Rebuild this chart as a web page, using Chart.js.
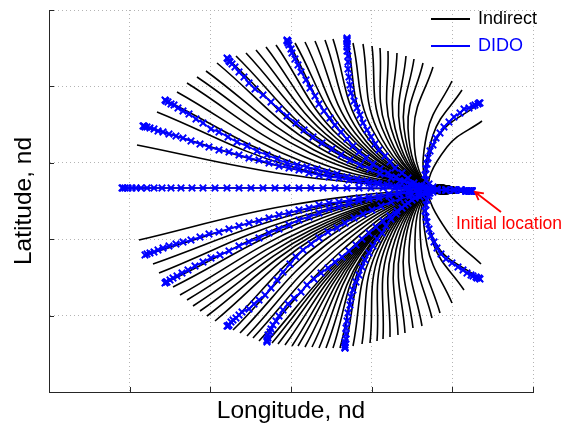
<!DOCTYPE html>
<html lang="en">
<head>
<meta charset="utf-8"/>
<script src="https://cdn.jsdelivr.net/npm/chart.js@4.4.0/dist/chart.umd.min.js"></script>
<style>
    html, body { margin: 0; padding: 0; background: #fff; }
    #wrap { width: 576px; height: 428px; }
</style>
</head>
<body>
<div id="wrap"><canvas id="chart" width="576" height="428"></canvas></div>
<script>
// nondimensional frame, no tick labels in the original
const xTickValues = [0, 0.8067, 1.6133, 2.42, 3.2267, 4.0333, 4.84];
const yTickValues = [0, 0.764, 1.528, 2.292, 3.056, 3.82];
const xTitle = 'Longitude, nd';
const yTitle = 'Latitude, nd';
const legendLabels = ['Indirect', 'DIDO'];
const noteText = 'Initial location';
const noteAt = [4.07, 1.68];
const arrowTail = [4.52, 1.80];
const arrowTip = [4.26, 2.00];

// Indirect: every path leaves the initial location, runs into the fan root, then bends out
const indirectStart = [[4.23, 2.01], [3.81, 2.03]];
const indirectEndX = [0.88,0.94,1.08,1.16,1.28,1.38,1.48,1.57,1.68,1.78,1.87,1.97,2.07,2.17,2.27,2.38,2.46,2.56,2.66,2.76,2.84,2.98,3.04,3.14,3.23,3.31,3.39,3.48,3.57,3.65,3.74,3.84,4.03,4.13,4.31,4.33,
    0.73,
    0.90,0.96,1.04,1.10,1.16,1.24,1.31,1.38,1.44,1.51,1.58,1.66,1.78,1.84,1.91,1.98,2.04,2.10,2.18,2.23,2.29,2.36,2.43,2.49,2.56,2.63,2.70,2.77,2.84,2.91,2.96,3.04,3.13,3.21,3.28,3.34,3.41,3.49,3.56,3.64,3.73,3.83,3.91,4.03,4.15,4.31,4.32];
const indirectEndY = [2.47,2.66,2.80,2.92,3.00,3.09,3.15,3.21,3.29,3.34,3.36,3.39,3.42,3.45,3.47,3.52,3.49,3.50,3.51,3.52,3.53,3.54,3.49,3.48,3.46,3.44,3.41,3.39,3.36,3.33,3.29,3.25,3.11,3.02,2.89,2.71,
    2.04,
    1.52,1.37,1.28,1.19,1.09,1.05,0.97,0.92,0.86,0.81,0.76,0.71,0.65,0.62,0.59,0.56,0.54,0.51,0.50,0.49,0.48,0.47,0.46,0.46,0.45,0.45,0.44,0.44,0.44,0.44,0.44,0.46,0.48,0.49,0.51,0.53,0.55,0.57,0.59,0.64,0.66,0.74,0.79,0.89,1.02,1.13,1.28];
const indirectMidX = [2.35,2.39,2.44,2.48,2.52,2.56,2.61,2.65,2.69,2.72,2.76,2.80,2.84,2.87,2.91,2.94,2.98,3.02,3.06,3.10,3.14,3.18,3.23,3.28,3.33,3.37,3.42,3.46,3.51,3.55,3.59,3.65,3.78,3.84,3.88,3.98,
    2.27,
    2.36,2.39,2.43,2.47,2.50,2.53,2.56,2.59,2.62,2.64,2.66,2.68,2.70,2.74,2.78,2.82,2.86,2.90,2.94,2.96,2.98,3.00,3.02,3.04,3.06,3.08,3.10,3.13,3.15,3.17,3.19,3.23,3.27,3.31,3.35,3.39,3.43,3.47,3.51,3.55,3.60,3.66,3.72,3.78,3.84,3.87,3.98];
const indirectMidY = [2.18,2.24,2.25,2.28,2.31,2.35,2.39,2.42,2.45,2.48,2.49,2.51,2.52,2.54,2.55,2.57,2.58,2.58,2.59,2.60,2.61,2.62,2.63,2.63,2.64,2.64,2.64,2.64,2.64,2.64,2.64,2.64,2.59,2.57,2.54,2.45,
    2.04,
    1.86,1.79,1.77,1.74,1.72,1.70,1.67,1.64,1.62,1.60,1.58,1.56,1.54,1.51,1.48,1.45,1.42,1.39,1.36,1.36,1.36,1.36,1.36,1.36,1.36,1.36,1.36,1.36,1.37,1.37,1.37,1.38,1.39,1.40,1.41,1.42,1.42,1.42,1.42,1.43,1.43,1.44,1.45,1.47,1.49,1.48,1.61];

// DIDO nodes, crowded at both ends of each arc
const didoStart = [[4.23,2.01],[4.22,2.01],[4.20,2.01],[4.17,2.01],[4.12,2.02],[4.05,2.02],[3.97,2.02]];
const dido0 = [[3.88,2.03],[3.78,2.03],[3.68,2.03],[3.57,2.04],[3.46,2.04],[3.34,2.04],[3.22,2.04],[3.10,2.04],[2.98,2.04],[2.86,2.04],[2.74,2.04],[2.62,2.04],[2.50,2.04],[2.38,2.04],[2.26,2.04],[2.14,2.04],[2.02,2.04],[1.90,2.04],[1.78,2.04],[1.66,2.04],[1.54,2.04],[1.43,2.04],[1.32,2.04],[1.22,2.04],[1.13,2.04],[1.05,2.04],[0.98,2.04],[0.92,2.04],[0.87,2.04],[0.83,2.04],[0.79,2.04],[0.76,2.04],[0.74,2.04],[0.73,2.04]];
const dido1 = [[3.88,2.02],[3.79,2.03],[3.70,2.03],[3.60,2.04],[3.50,2.05],[3.40,2.06],[3.30,2.08],[3.20,2.09],[3.10,2.10],[3.00,2.12],[2.90,2.14],[2.80,2.15],[2.70,2.17],[2.60,2.19],[2.50,2.22],[2.40,2.24],[2.30,2.26],[2.20,2.29],[2.10,2.32],[2.00,2.34],[1.90,2.37],[1.80,2.40],[1.70,2.42],[1.60,2.45],[1.51,2.48],[1.42,2.51],[1.34,2.54],[1.27,2.56],[1.20,2.58],[1.14,2.60],[1.09,2.61],[1.05,2.63],[1.01,2.64],[0.98,2.65],[0.96,2.65],[0.95,2.66],[0.94,2.66]];
const dido2 = [[3.88,2.02],[3.78,2.03],[3.68,2.04],[3.58,2.04],[3.48,2.05],[3.38,2.07],[3.28,2.09],[3.18,2.11],[3.08,2.13],[2.98,2.15],[2.88,2.18],[2.78,2.20],[2.68,2.23],[2.58,2.25],[2.48,2.27],[2.38,2.29],[2.28,2.33],[2.18,2.37],[2.08,2.41],[1.98,2.46],[1.88,2.50],[1.79,2.55],[1.70,2.60],[1.62,2.63],[1.54,2.69],[1.47,2.73],[1.40,2.78],[1.34,2.81],[1.29,2.84],[1.25,2.87],[1.22,2.88],[1.19,2.90],[1.17,2.91],[1.16,2.92]];
const dido3 = [[3.88,2.02],[3.79,2.04],[3.70,2.06],[3.61,2.08],[3.51,2.11],[3.42,2.14],[3.31,2.18],[3.21,2.23],[3.11,2.27],[3.01,2.32],[2.92,2.37],[2.83,2.43],[2.73,2.49],[2.64,2.55],[2.55,2.62],[2.47,2.69],[2.38,2.76],[2.30,2.83],[2.22,2.90],[2.14,2.97],[2.06,3.03],[2.00,3.09],[1.95,3.15],[1.90,3.20],[1.86,3.25],[1.83,3.28],[1.81,3.30],[1.80,3.31],[1.79,3.33],[1.78,3.34]];
const dido4 = [[3.88,2.02],[3.80,2.04],[3.72,2.06],[3.62,2.08],[3.55,2.11],[3.47,2.15],[3.39,2.19],[3.31,2.23],[3.24,2.28],[3.17,2.34],[3.10,2.40],[3.04,2.46],[2.98,2.53],[2.92,2.60],[2.86,2.67],[2.81,2.74],[2.75,2.81],[2.70,2.88],[2.66,2.96],[2.61,3.04],[2.57,3.12],[2.52,3.20],[2.49,3.27],[2.46,3.33],[2.43,3.39],[2.42,3.43],[2.40,3.47],[2.39,3.49],[2.39,3.51],[2.38,3.51],[2.38,3.52]];
const dido5 = [[3.88,2.02],[3.80,2.04],[3.73,2.06],[3.65,2.09],[3.59,2.14],[3.53,2.19],[3.46,2.24],[3.41,2.30],[3.36,2.36],[3.30,2.42],[3.26,2.48],[3.22,2.55],[3.18,2.62],[3.14,2.69],[3.11,2.77],[3.08,2.84],[3.05,2.91],[3.02,2.99],[3.01,3.07],[3.00,3.15],[2.99,3.23],[2.99,3.30],[2.99,3.36],[2.98,3.41],[2.98,3.45],[2.98,3.48],[2.98,3.51],[2.98,3.52],[2.98,3.53],[2.98,3.54]];
const dido6 = [[3.88,2.02],[3.84,2.05],[3.80,2.08],[3.77,2.12],[3.76,2.17],[3.77,2.23],[3.78,2.28],[3.79,2.34],[3.81,2.41],[3.84,2.47],[3.87,2.54],[3.91,2.59],[3.95,2.65],[4.00,2.70],[4.05,2.75],[4.11,2.79],[4.15,2.83],[4.20,2.84],[4.24,2.86],[4.26,2.87],[4.29,2.88],[4.30,2.89],[4.31,2.89]];
const dido7 = [[3.88,2.02],[3.79,2.01],[3.70,2.01],[3.60,2.00],[3.50,1.99],[3.40,1.98],[3.30,1.96],[3.20,1.95],[3.10,1.94],[3.00,1.92],[2.90,1.90],[2.80,1.89],[2.70,1.87],[2.60,1.84],[2.50,1.82],[2.40,1.79],[2.30,1.77],[2.20,1.74],[2.10,1.71],[2.00,1.69],[1.90,1.66],[1.80,1.63],[1.70,1.60],[1.60,1.58],[1.51,1.55],[1.42,1.52],[1.34,1.50],[1.27,1.48],[1.20,1.46],[1.14,1.44],[1.09,1.42],[1.05,1.40],[1.01,1.39],[0.98,1.38],[0.96,1.37]];
const dido8 = [[3.88,2.02],[3.79,2.01],[3.70,2.00],[3.60,1.99],[3.50,1.98],[3.40,1.96],[3.30,1.94],[3.20,1.93],[3.10,1.91],[3.00,1.88],[2.90,1.85],[2.80,1.83],[2.70,1.79],[2.60,1.75],[2.50,1.72],[2.40,1.67],[2.30,1.63],[2.20,1.59],[2.10,1.54],[2.00,1.50],[1.90,1.46],[1.80,1.41],[1.71,1.37],[1.62,1.34],[1.54,1.30],[1.46,1.26],[1.39,1.22],[1.33,1.19],[1.28,1.16],[1.24,1.14],[1.21,1.12],[1.18,1.10],[1.17,1.10],[1.16,1.09]];
const dido9 = [[3.88,2.02],[3.79,2.00],[3.70,1.98],[3.61,1.96],[3.51,1.93],[3.42,1.90],[3.32,1.86],[3.23,1.82],[3.14,1.78],[3.05,1.74],[2.96,1.69],[2.88,1.64],[2.79,1.60],[2.70,1.54],[2.62,1.48],[2.54,1.42],[2.47,1.35],[2.41,1.28],[2.34,1.20],[2.28,1.12],[2.22,1.04],[2.16,0.97],[2.10,0.92],[2.05,0.88],[2.00,0.83],[1.93,0.80],[1.90,0.77],[1.87,0.74],[1.84,0.72],[1.82,0.70],[1.80,0.67],[1.79,0.66],[1.78,0.66]];
const dido10 = [[3.88,2.02],[3.80,1.99],[3.71,1.95],[3.63,1.92],[3.56,1.87],[3.48,1.81],[3.41,1.76],[3.34,1.71],[3.27,1.65],[3.20,1.59],[3.13,1.53],[3.07,1.47],[3.00,1.41],[2.93,1.35],[2.86,1.30],[2.79,1.24],[2.72,1.19],[2.65,1.13],[2.58,1.07],[2.52,1.00],[2.45,0.94],[2.39,0.88],[2.34,0.82],[2.30,0.76],[2.27,0.71],[2.24,0.67],[2.22,0.63],[2.21,0.60],[2.19,0.57],[2.19,0.54],[2.18,0.52],[2.18,0.51],[2.18,0.50]];
const dido11 = [[3.88,2.02],[3.81,1.99],[3.73,1.97],[3.66,1.94],[3.59,1.89],[3.53,1.84],[3.47,1.78],[3.42,1.73],[3.37,1.66],[3.33,1.59],[3.28,1.53],[3.24,1.46],[3.20,1.39],[3.16,1.32],[3.13,1.25],[3.10,1.17],[3.07,1.10],[3.04,1.02],[3.02,0.95],[3.01,0.87],[2.99,0.79],[2.98,0.71],[2.97,0.64],[2.97,0.58],[2.97,0.53],[2.96,0.50],[2.96,0.47],[2.96,0.45],[2.96,0.44],[2.96,0.44]];
const dido12 = [[3.88,2.02],[3.84,2.00],[3.80,1.96],[3.78,1.92],[3.77,1.87],[3.76,1.81],[3.77,1.75],[3.78,1.70],[3.80,1.63],[3.82,1.56],[3.85,1.50],[3.88,1.44],[3.92,1.38],[3.97,1.33],[4.03,1.29],[4.09,1.25],[4.14,1.22],[4.18,1.19],[4.22,1.17],[4.24,1.16],[4.27,1.15],[4.28,1.14],[4.30,1.14],[4.31,1.13]];
const didoCurves = [dido0, dido1, dido2, dido3, dido4, dido5, dido6, dido7, dido8, dido9, dido10, dido11, dido12];

const FONT = '"Liberation Sans", Arial, Helvetica, sans-serif';
const toPts = arr => arr.map(p => ({x: p[0], y: p[1]}));

const indirectSets = indirectEndX.map((ex, i) => ({
    label: legendLabels[0],
    data: toPts([...indirectStart, [indirectMidX[i], indirectMidY[i]], [ex, indirectEndY[i]]]),
    showLine: true,
    borderColor: '#000000',
    borderWidth: 1.6,
    pointRadius: 0,
    tension: 0.4,
    order: 2
}));

const didoSets = didoCurves.map(c => ({
    label: legendLabels[1],
    data: toPts([...didoStart, ...c]),
    showLine: true,
    borderColor: '#0000ff',
    borderWidth: 1.6,
    pointStyle: 'crossRot',
    pointRadius: 4.6,
    pointBorderWidth: 1.8,
    pointBorderColor: '#0000ff',
    pointBackgroundColor: '#0000ff',
    tension: 0.2,
    order: 1
}));

// MATLAB style ticks point into the axes
const inwardTicks = {
    id: 'inwardTicks',
    afterDatasetsDraw(chart) {
        const {ctx, chartArea: a, scales: {x, y}} = chart;
        ctx.save();
        ctx.strokeStyle = '#262626';
        ctx.lineWidth = 1;
        ctx.beginPath();
        xTickValues.forEach(v => {
            const px = Math.round(x.getPixelForValue(v)) + 0.5;
            ctx.moveTo(px, a.bottom);
            ctx.lineTo(px, a.bottom - 5);
        });
        yTickValues.forEach(v => {
            const py = Math.round(y.getPixelForValue(v)) + 0.5;
            ctx.moveTo(a.left, py);
            ctx.lineTo(a.left + 5, py);
        });
        ctx.stroke();
        ctx.restore();
    }
};

// legend inside the axes and the red note with its arrow
const annotate = {
    id: 'annotate',
    afterDraw(chart) {
        const {ctx, chartArea: a, scales: {x, y}} = chart;
        ctx.save();
        ctx.font = '18px ' + FONT;
        ctx.textBaseline = 'middle';
        ctx.textAlign = 'left';
        const colors = ['#000000', '#0000ff'];
        legendLabels.forEach((t, i) => {
            const ly = a.top + 9 + i * 27;
            ctx.strokeStyle = colors[i];
            ctx.lineWidth = 2;
            ctx.beginPath();
            ctx.moveTo(a.right - 102, ly);
            ctx.lineTo(a.right - 63, ly);
            ctx.stroke();
            ctx.fillStyle = colors[i];
            ctx.fillText(t, a.right - 55, ly);
        });

        ctx.fillStyle = '#ff0000';
        ctx.font = '17.5px ' + FONT;
        ctx.fillText(noteText, x.getPixelForValue(noteAt[0]), y.getPixelForValue(noteAt[1]));

        const tx = x.getPixelForValue(arrowTip[0]), ty = y.getPixelForValue(arrowTip[1]);
        const sx = x.getPixelForValue(arrowTail[0]), sy = y.getPixelForValue(arrowTail[1]);
        const ang = Math.atan2(ty - sy, tx - sx);
        ctx.strokeStyle = '#ff0000';
        ctx.lineWidth = 1.8;
        ctx.beginPath();
        ctx.moveTo(sx, sy);
        ctx.lineTo(tx, ty);
        ctx.moveTo(tx - 9 * Math.cos(ang - 0.5), ty - 9 * Math.sin(ang - 0.5));
        ctx.lineTo(tx, ty);
        ctx.lineTo(tx - 9 * Math.cos(ang + 0.5), ty - 9 * Math.sin(ang + 0.5));
        ctx.stroke();
        ctx.restore();
    }
};

const gridStyle = {
    color: '#b4b4b4',
    lineWidth: 1,
    drawTicks: false
};

new Chart(document.getElementById('chart'), {
    type: 'scatter',
    data: { datasets: [...didoSets, ...indirectSets] },
    options: {
        responsive: false,
        animation: false,
        devicePixelRatio: 1,
        layout: { padding: { top: 10, right: 43, left: 0, bottom: 0 } },
        plugins: { legend: { display: false }, tooltip: { enabled: false } },
        scales: {
            x: {
                type: 'linear',
                min: xTickValues[0],
                max: xTickValues[xTickValues.length - 1],
                afterBuildTicks: s => { s.ticks = xTickValues.map(v => ({value: v})); },
                afterFit: s => { s.height = 36; },
                ticks: { display: false },
                grid: gridStyle,
                border: { display: true, color: '#262626', width: 1, dash: [1, 3] },
                title: {
                    display: true, text: xTitle, color: '#000',
                    font: { family: FONT, size: 24.5 },
                    padding: { top: 0, bottom: 2 }
                }
            },
            y: {
                type: 'linear',
                min: yTickValues[0],
                max: yTickValues[yTickValues.length - 1],
                afterBuildTicks: s => { s.ticks = yTickValues.map(v => ({value: v})); },
                afterFit: s => { s.width = 49; },
                ticks: { display: false },
                grid: gridStyle,
                border: { display: true, color: '#262626', width: 1, dash: [1, 3] },
                title: {
                    display: true, text: yTitle, color: '#000',
                    font: { family: FONT, size: 24.5 },
                    padding: { top: 10, bottom: 0 }
                }
            }
        }
    },
    plugins: [inwardTicks, annotate]
});
</script>
</body>
</html>
